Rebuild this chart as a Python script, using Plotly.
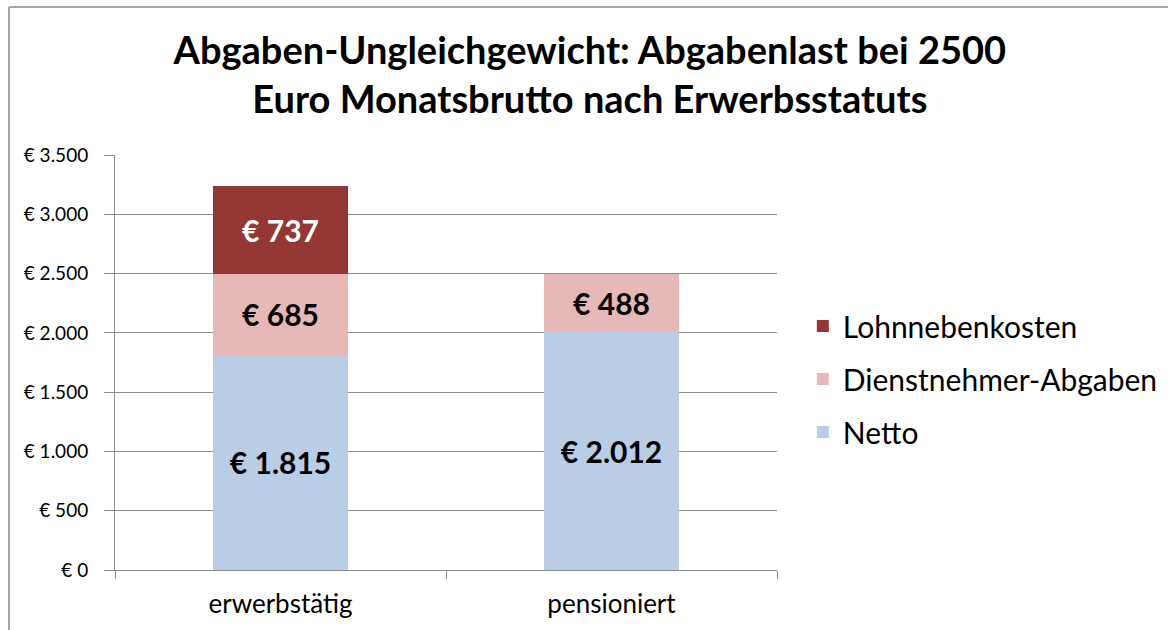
import plotly.graph_objects as go

categories = ["erwerbstätig", "pensioniert"]
netto = [1815, 2012]
dienstnehmer = [685, 488]
lohnneben = [737, None]

series_names = ["Netto", "Dienstnehmer-Abgaben", "Lohnnebenkosten"]
colors = ["#B9CDE5", "#E6B9B8", "#953735"]
label_colors = ["black", "black", "white"]

def fmt(v):
    return "" if v is None else "€ " + f"{v:,}".replace(",", ".")

FONT = "Lato"

fig = go.Figure()
for i, (name, vals) in enumerate(zip(series_names, [netto, dienstnehmer, lohnneben])):
    fig.add_trace(go.Bar(
        x=categories, y=vals, name=name,
        marker=dict(color=colors[i], line=dict(width=0)),
        text=[fmt(v) for v in vals], textposition="inside",
        insidetextanchor="middle", textangle=0,
        textfont=dict(family=FONT, size=30, color=label_colors[i], weight="bold"),
        legendgroup=name, legendrank=3 - i,
        hoverinfo="skip",
    ))

fig.update_layout(
    width=1168, height=630,
    barmode="stack", bargap=0.595,
    separators=",.",
    plot_bgcolor="white", paper_bgcolor="white",
    margin=dict(l=115, r=391, t=155, b=60, autoexpand=False),
    font=dict(family=FONT, color="black"),
    title=dict(
        text="Abgaben-Ungleichgewicht: Abgabenlast bei 2500<br>Euro Monatsbrutto nach Erwerbsstatuts",
        x=0.505, xref="container", xanchor="center",
        y=1 - 64 / 630, yref="container", yanchor="middle",
        font=dict(family=FONT, size=38, color="black", weight="bold"),
    ),
    legend=dict(
        x=1.039, xanchor="left", y=0.46, yanchor="middle",
        traceorder="grouped", tracegroupgap=11,
        font=dict(family=FONT, size=30, color="black"),
        bgcolor="rgba(0,0,0,0)",
    ),
    showlegend=True,
)

fig.update_yaxes(
    range=[0, 3500], dtick=500, tickprefix="€ ", tickformat=",d",
    showgrid=True, gridcolor="#8C8C8C", gridwidth=1,
    showline=True, linecolor="#8C8C8C", linewidth=1,
    ticks="outside", ticklen=10, tickcolor="#8C8C8C",
    tickfont=dict(family=FONT, size=19, color="black"),
    ticklabelstandoff=12,
    zeroline=False, fixedrange=True,
)
fig.update_xaxes(
    showline=True, linecolor="#8C8C8C", linewidth=1,
    ticks="outside", ticklen=8, tickcolor="#8C8C8C", tickson="boundaries",
    tickfont=dict(family=FONT, size=26, color="black"),
    ticklabelstandoff=11,
    fixedrange=True,
)

# chart frame (top and left border of the chart area)
fig.add_shape(type="line", xref="paper", yref="paper",
              x0=(9 - 115) / 662, x1=1 + 391 / 662, y0=1 + 148 / 415, y1=1 + 148 / 415,
              line=dict(color="#A6A6A6", width=2))
fig.add_shape(type="line", xref="paper", yref="paper",
              x0=(9 - 115) / 662, x1=(9 - 115) / 662, y0=1 + 148 / 415, y1=-60 / 415,
              line=dict(color="#A6A6A6", width=2))

fig.write_html("out.html")
